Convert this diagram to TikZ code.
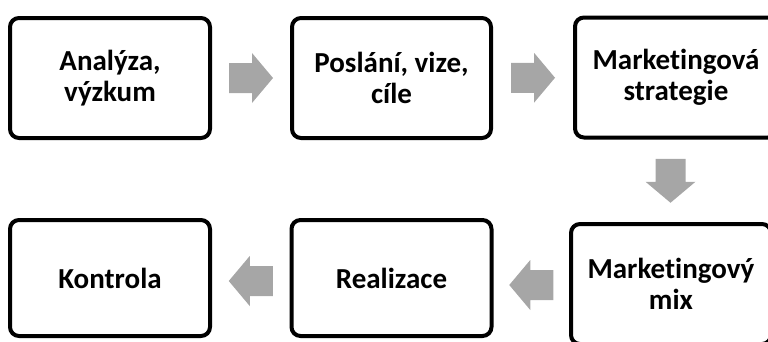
\documentclass[tikz,border=0pt]{standalone}
\usepackage{fontspec}
\setmainfont{Carlito}[Ligatures=NoCommon]
\usetikzlibrary{calc}
\definecolor{arrgray}{HTML}{A6A6A6}
\tikzset{
  stepbox/.style={draw=black, line width=4pt, rounded corners=9pt, fill=white,
    minimum width=200pt, minimum height=120pt, align=center, inner sep=0pt,
    font=\fontsize{29}{31}\selectfont\bfseries},
  blockarrow/.pic={\fill[arrgray] (-22pt,-15pt) -- (1pt,-15pt) -- (1pt,-25pt) -- (22pt,0pt) -- (1pt,25pt) -- (1pt,15pt) -- (-22pt,15pt) -- cycle;}
}
\begin{document}
\begin{tikzpicture}[x=1pt,y=-1pt]
\useasboundingbox (0,0) rectangle (768,341);
\clip (0,0) rectangle (768,341);
\node[stepbox] (a) at (110,78) {Analýza,\\výzkum};
\node[stepbox, minimum width=199pt] (b) at (391.5,78) {Poslání, vize,\\cíle};
\node[stepbox, minimum width=202pt] (c) at (676,77.5) {Marketingová\\strategie};
\node[stepbox, minimum height=120pt] (d) at (671,284) {Marketingový\\mix};
\node[stepbox, minimum height=116pt] (e) at (391.5,278) {Realizace};
\node[stepbox, minimum height=116pt] (f) at (110,278) {Kontrola};
\pic at ($(a.east)!0.5!(b.west)$) {blockarrow};
\pic at ($(b.east)!0.5!(c.west)$) {blockarrow};
\pic[rotate=-90] at ($(c.south)!0.5!(d.north)+(-3,0)$) {blockarrow};
\pic[rotate=180] at ($(e.east)!0.5!(d.west)+(0,4)$) {blockarrow};
\pic[rotate=180] at ($(f.east)!0.5!(e.west)+(0,3)$) {blockarrow};
\end{tikzpicture}
\end{document}
